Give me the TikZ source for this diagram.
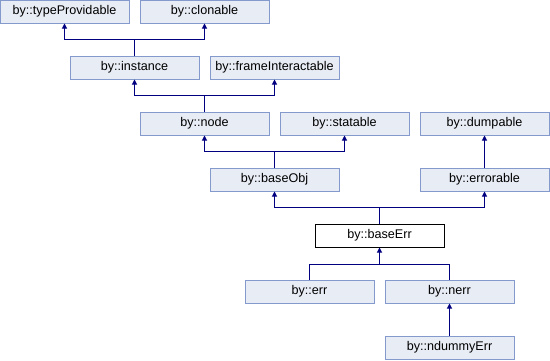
\documentclass[tikz,border=0pt]{standalone}
\usepackage{fontspec}
\setmainfont{Liberation Sans}
\usetikzlibrary{arrows.meta}
\definecolor{boxfill}{RGB}{232,236,245}
\definecolor{boxline}{RGB}{132,154,204}
\definecolor{edgecol}{RGB}{0,0,128}
\begin{document}
\begin{tikzpicture}[x=1pt,y=-1pt,
  cls/.style={draw=boxline,fill=boxfill,line width=1pt,minimum width=129pt,minimum height=23pt,inner sep=0pt,font=\fontsize{12.6}{14}\selectfont},
  cur/.style={cls,draw=black,fill=white},
  edge/.style={draw=edgecol,line width=1pt},
  arr/.style={edge,-{Triangle[width=5pt,length=5pt]}}]
\useasboundingbox (0,0) rectangle (550,360);
% row 1
\node[cls] (tp) at (64.5,11.5) {by::typeProvidable};
\node[cls] (cl) at (204.5,11.5) {by::clonable};
% row 2
\node[cls] (in) at (134.5,67.5) {by::instance};
\node[cls] (fi) at (274.5,67.5) {by::frameInteractable};
% row 3
\node[cls] (no) at (204.5,123.5) {by::node};
\node[cls] (st) at (344.5,123.5) {by::statable};
\node[cls] (du) at (484.5,123.5) {by::dumpable};
% row 4
\node[cls] (bo) at (274.5,179.5) {by::baseObj};
\node[cls] (er) at (484.5,179.5) {by::errorable};
% row 5
\node[cur] (be) at (379.5,235.5) {by::baseErr};
% row 6
\node[cls] (ee) at (309.5,291.5) {by::err};
\node[cls] (ne) at (449.5,291.5) {by::nerr};
% row 7
\node[cls] (nd) at (449.5,347.5) {by::ndummyErr};
% edges
\draw[edge] (in.north) -- ++(0,-16) coordinate (j1);
\draw[arr] (j1) -| (tp.south);
\draw[arr] (j1) -| (cl.south);
\draw[edge] (no.north) -- ++(0,-16) coordinate (j2);
\draw[arr] (j2) -| (in.south);
\draw[arr] (j2) -| (fi.south);
\draw[edge] (bo.north) -- ++(0,-16) coordinate (j3);
\draw[arr] (j3) -| (no.south);
\draw[arr] (j3) -| (st.south);
\draw[arr] (er.north) -- (du.south);
\draw[edge] (be.north) -- ++(0,-16) coordinate (j4);
\draw[arr] (j4) -| (bo.south);
\draw[arr] (j4) -| (er.south);
\coordinate (j5) at ([yshift=-17pt]be.south);
\draw[edge] (ee.north) |- (j5) -| (ne.north);
\draw[arr] (j5) -- (be.south);
\draw[arr] (nd.north) -- (ne.south);
\end{tikzpicture}
\end{document}
